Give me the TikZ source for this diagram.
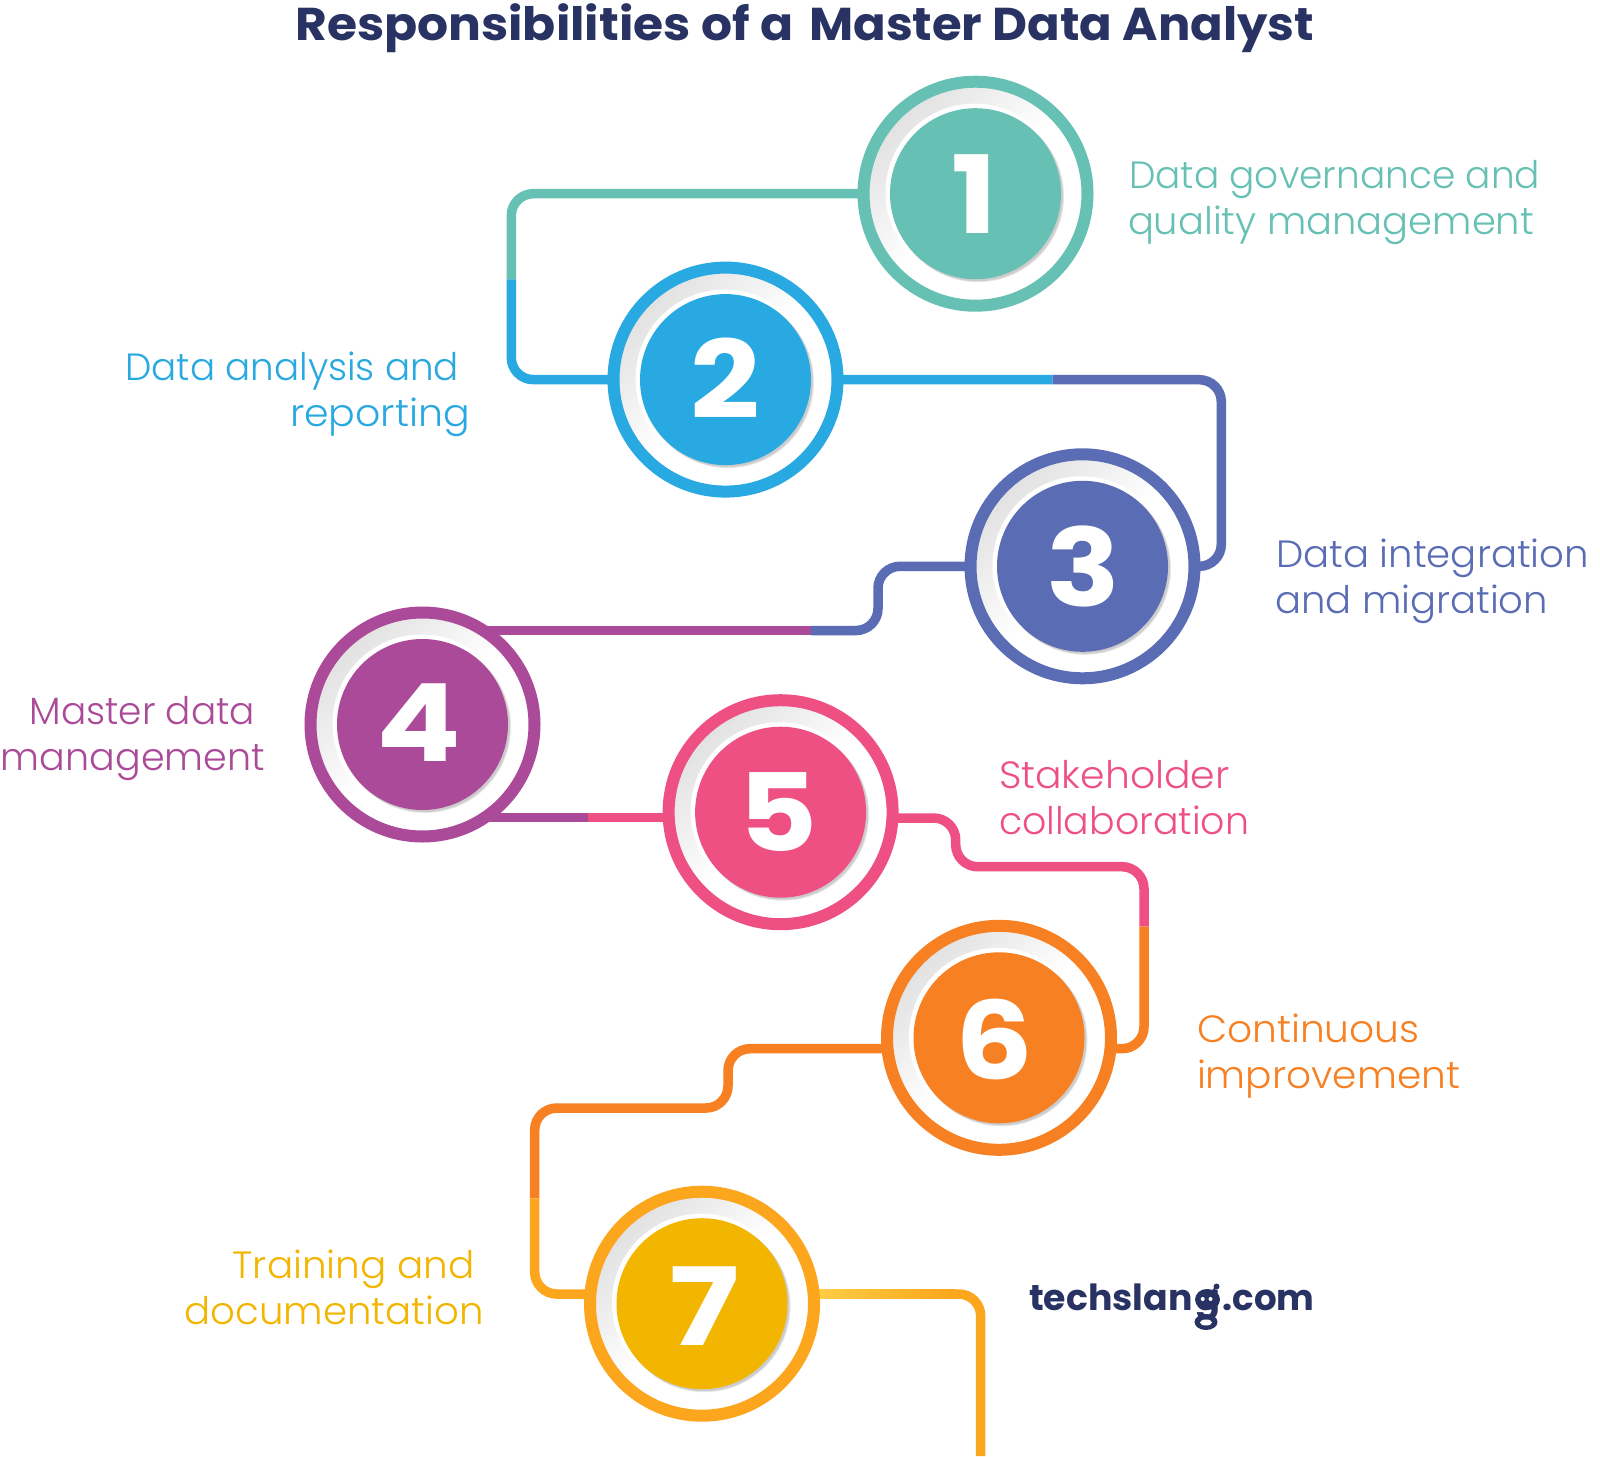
\documentclass[tikz,border=0pt]{standalone}
\usepackage{fontspec}
\usepackage{graphicx}
\usetikzlibrary{backgrounds,calc}
\newfontfamily\lightf{Poppins Light}
\newfontfamily\boldf{Poppins Bold}
\definecolor{cteal}{HTML}{66C1B4}
\definecolor{cblue}{HTML}{29A9E1}
\definecolor{cindigo}{HTML}{5A6CB4}
\definecolor{cpurple}{HTML}{AB4A98}
\definecolor{cpink}{HTML}{EE5083}
\definecolor{corange}{HTML}{F78022}
\definecolor{cgold}{HTML}{F2B500}
\definecolor{camber}{HTML}{FBA61C}
\definecolor{cnavy}{HTML}{283263}
\definecolor{cstart}{HTML}{FFCE45}
\tikzset{
  ringnode/.style={circle,inner sep=0pt,outer sep=0pt,minimum size=224pt,line width=12pt,draw=#1,
    shading=axis,top color=black!12,bottom color=white,middle color=white,shading angle=45},
  halo/.style={circle,inner sep=0pt,outer sep=0pt,minimum size=178pt,fill=white},
  shadowa/.style={circle,inner sep=0pt,outer sep=0pt,minimum size=172pt,fill=black!9},
  shadowb/.style={circle,inner sep=0pt,outer sep=0pt,minimum size=171pt,fill=black!20},
  disc/.style={circle,inner sep=0pt,outer sep=0pt,minimum size=171pt,fill=#1},
  digit/.style={inner sep=0pt,outer sep=0pt,text=white,font=\boldf\fontsize{108}{108}\selectfont},
  link/.style={line width=9.5pt,rounded corners=22pt,draw=#1},
  lbl/.style={inner sep=0pt,outer sep=0pt,anchor=base west,text=#1,font=\lightf\fontsize{38}{38}\selectfont},
}
% width-fitted text: left x, right x, baseline y
\newcommand{\lab}[6]{\node[lbl=#1] (#2) at (#3-1,#5-2) {\resizebox{\dimexpr#4pt-#3pt+2pt\relax}{\height}{#6}};}
\newcommand{\stage}[8]{%
  \node[ringnode=#4] (c#1) at (#2,#3) {};
  \node[halo] (h#1) at (#2-1,#3-1) {};
  \node[shadowa] (sa#1) at (#2+2.5,#3+2.5) {};
  \node[shadowb] (sb#1) at (#2+2,#3+2) {};
  \node[disc=#5] (d#1) at (#2,#3) {};
  \node[digit] (n#1) at (#6,#7) {\scalebox{#8}[1]{#1}};
}
\begin{document}
\begin{tikzpicture}[x=1pt,y=-1pt]
\useasboundingbox (0,0) rectangle (1600,1456);
\node[inner sep=0pt,anchor=base west,text=cnavy,font=\boldf\fontsize{46}{46}\selectfont] (title) at (295,41)
  {\resizebox{498pt}{\height}{Responsibilities of a}\hspace{16pt}\resizebox{505pt}{\height}{Master Data Analyst}};
\stage{1}{975.5}{193.7}{cteal}{cteal}{974.5}{194.5}{1.13}
\stage{2}{725.5}{379.6}{cblue}{cblue}{725}{378.6}{1.13}
\stage{3}{1082.5}{566.3}{cindigo}{cindigo}{1083}{566.6}{1.13}
\stage{4}{422.5}{724.5}{cpurple}{cpurple}{419.4}{722.4}{1.16}
\stage{5}{780.6}{812.2}{cpink}{cpink}{778.5}{812}{1.13}
\stage{6}{999}{1037.8}{corange}{corange}{994}{1039}{1.13}
\stage{7}{702}{1303.7}{camber}{cgold}{704.5}{1306}{1.21}
\coordinate (m12) at (511.3,279.3);
\coordinate (m23) at (1052.7,379.7);
\coordinate (m34) at (811,630.5);
\coordinate (m45) at (587.7,817.3);
\coordinate (m56) at (1144,926.7);
\coordinate (m67) at (534.7,1198.3);
\coordinate (end7) at (980.7,1456);
\begin{pgfonlayer}{background}
\fill[white] (0,0) rectangle (1600,1456);
\draw[link=cteal] (c1.center) -- (511.3,193.7) -- (m12);
\draw[link=cblue] (m12) -- (511.3,379.6) -- (c2.center);
\draw[link=cblue] (c2.center) -- (m23);
\draw[link=cindigo] (m23) -- (1221.3,379.7) -- (1221.3,566.3) -- (c3.center);
\draw[link=cindigo] (c3.center) -- (878,566.3) -- (878,630.5) -- (m34);
\draw[link=cpurple] (m34) -- (c4.center |- m34);
\draw[link=cpurple] (c4.center |- m45) -- (m45);
\draw[link=cpink] (m45) -- (c5.center |- m45);
\draw[link=cpink] (c5.center |- 0,818) -- (955.7,818) -- (955.7,866.7) -- (1144,866.7) -- (m56);
\draw[link=corange] (m56) -- (1144,1048.7) -- (c6.center |- 0,1048.7);
\draw[link=corange] (c6.center |- 0,1048.7) -- (728,1048.7) -- (728,1108) -- (534.7,1108) -- (m67);
\draw[link=camber] (m67) -- (534.7,1294) -- (c7.center |- 0,1294);
\shade[left color=cstart,right color=camber] (815,1289.25) rectangle (955,1298.75);
\draw[link=camber] (954,1294) -- (980.7,1294) -- (end7);
\end{pgfonlayer}
\lab{cteal}{l1a}{1130}{1539}{190}{Data governance and}
\lab{cteal}{l1b}{1129}{1533}{236}{quality management}
\lab{cblue}{l2a}{126.5}{458}{382}{Data analysis and}
\lab{cblue}{l2b}{291}{469}{428}{reporting}
\lab{cindigo}{l3a}{1277}{1588}{569}{Data integration}
\lab{cindigo}{l3b}{1276}{1547}{615}{and migration}
\lab{cpurple}{l4a}{30.6}{254}{726.5}{Master data}
\lab{cpurple}{l4b}{2}{264}{772.5}{management}
\lab{cpink}{l5a}{1000}{1228.5}{790}{Stakeholder}
\lab{cpink}{l5b}{1000}{1248}{836}{collaboration}
\lab{corange}{l6a}{1198}{1418.5}{1044}{Continuous}
\lab{corange}{l6b}{1198}{1459}{1090}{improvement}
\lab{cgold}{l7a}{233.7}{473.5}{1280.7}{Training and}
\lab{cgold}{l7b}{185.7}{482.7}{1326.7}{documentation}
\node[inner sep=0pt,anchor=base west,text=cnavy,font=\boldf\fontsize{36}{36}\selectfont] (logo) at (1029,1310)
  {\resizebox{163.5pt}{\height}{techslan}\hspace{2.5pt}\resizebox{25pt}{\height}{g}\hspace{2.5pt}\resizebox{92pt}{\height}{.com}};
% robot details on the logo's g
\fill[cnavy] (1207.5,1299.5) ellipse (12.5pt and 10.5pt);
\fill[cnavy] (1216.5,1286.5) circle (3pt);
\draw[cnavy,line width=2pt] (1216.5,1286.5) -- (1213,1291);
\fill[white] (1202.7,1299) circle (2pt) (1210.5,1299) circle (2pt);
\fill[cnavy] (1206,1322) ellipse (11.5pt and 8pt);
\fill[white] (1206,1322.5) ellipse (6pt and 3pt);
\end{tikzpicture}
\end{document}
